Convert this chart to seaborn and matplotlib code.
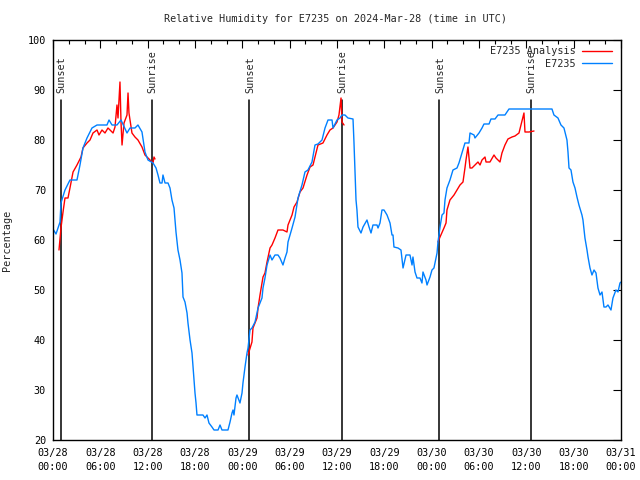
import numpy as np
import pandas as pd
import seaborn as sns
import matplotlib
matplotlib.use("Agg")
import matplotlib.pyplot as plt

# ---------------- data (hours since 2024-03-28 00:00 UTC) ----------------
obs_hours = [0, 0.38, 0.89, 1.01, 1.52, 2.15, 3.04, 3.42, 3.80, 4.31, 4.94, 5.58, 6.84, 7.10, 7.48,
             8.11, 8.62, 9.38, 9.76, 10.39, 10.77, 11.28, 11.66, 12.04, 12.68, 13.06, 13.31, 13.56,
             13.82, 13.94, 14.20, 14.58, 14.83, 15.08, 15.34, 15.59, 15.84, 16.10, 16.35, 16.48,
             16.73, 16.99, 17.11, 17.37, 17.62, 17.75, 17.87, 18.00, 18.13, 18.25, 19.01, 19.27,
             19.52, 19.77, 20.15, 20.41, 20.92, 21.17, 21.42, 22.18, 22.44, 22.69, 22.82, 22.94,
             23.20, 23.32, 23.70, 23.96, 24.08, 24.34, 24.59, 24.72, 24.97, 25.22, 25.61, 25.99,
             26.49, 26.62, 26.87, 27.13, 27.51, 27.76, 28.14, 28.52, 28.77, 29.15, 29.41, 29.66,
             29.79, 30.30, 30.68, 31.06, 31.56, 31.94, 32.32, 32.83, 33.21, 33.59, 34.10, 34.48,
             34.86, 35.37, 35.49, 36.00, 36.38, 36.63, 37.01, 37.39, 38.03, 38.15, 38.28, 38.41,
             38.53, 38.66, 39.04, 39.30, 39.80, 40.06, 40.31, 40.56, 41.07, 41.20, 41.45, 41.70,
             41.96, 42.34, 42.72, 42.97, 43.10, 43.22, 43.73, 44.11, 44.37, 44.75, 45.25, 45.51,
             45.63, 45.89, 46.14, 46.52, 46.77, 46.90, 47.28, 47.41, 47.79, 48.04, 48.29, 48.68,
             48.80, 49.06, 49.31, 49.56, 49.69, 49.94, 50.32, 50.70, 51.21, 51.46, 51.84, 52.22,
             52.73, 52.86, 53.37, 53.49, 54.00, 54.38, 54.63, 55.27, 55.52, 56.03, 56.41, 57.29,
             57.80, 61.98, 63.25, 63.50, 64.01, 64.39, 64.77, 65.15, 65.28, 65.41, 65.66, 65.91,
             66.17, 66.42, 66.67, 67.05, 67.18, 67.43, 67.69, 67.82, 68.07, 68.32, 68.58, 68.83,
             69.08, 69.34, 69.59, 69.84, 70.10, 70.35, 70.73, 70.98, 71.36, 71.62, 71.87, 72.00]
obs_rh = [62.2, 61.2, 63.6, 67.4, 70, 72, 72, 75, 78.4, 80.4, 82.4, 83, 83, 84, 83,
          83, 84, 81.4, 82.4, 82.4, 83, 81.6, 77.6, 76, 75.4, 74.4, 73, 71.4,
          71.4, 73, 71.4, 71.4, 70.4, 68, 66.4, 61.6, 58, 56, 53.4, 48.6,
          47.6, 45.4, 43.4, 40, 37.4, 34.6, 32, 29.4, 27.4, 25, 25, 24.4,
          25, 23.4, 22.6, 22, 22, 23, 22, 22, 23.6, 25.4, 26, 25,
          28.4, 29, 27.4, 29.4, 31.4, 34.6, 37.4, 38.4, 42, 42.4, 43.6, 46.4,
          48.4, 50.4, 52.4, 55, 57, 56, 57, 57, 56.4, 55, 56.4, 57.6,
          59.6, 62.4, 64.6, 68.4, 71, 73.6, 74, 75.6, 79, 79.2, 80, 82.4,
          84, 84, 82.4, 84, 84.4, 85, 85, 84.4, 84.2, 79.6, 73.6, 68,
          66, 62.6, 61.4, 62.6, 64, 62.6, 61.4, 63, 63, 62.4, 63.4, 66,
          66, 65, 63.4, 61, 61, 58.6, 58.4, 58, 54.4, 57, 57, 55,
          56.6, 53.6, 52.4, 52.4, 51.4, 53.6, 52, 51, 52.6, 54, 54.4, 57.4,
          59.6, 62.6, 65, 65.4, 68, 70.4, 72, 74, 74.4, 75.4, 77.4, 79.4,
          79.4, 81.4, 81, 80.4, 81.4, 82.4, 83.2, 83.2, 84.2, 84.2, 85, 85,
          86.2, 86.2, 86.2, 85, 84.4, 83, 82.4, 80, 77.6, 74.4, 74, 71.6,
          70.4, 68.6, 67, 65, 64, 60.4, 58, 56.6, 54.4, 53, 54, 53.4,
          50.4, 49, 49.6, 46.6, 46.6, 47, 46, 48.4, 50, 49.6, 51.4, 51.6]

ana1_hours = [0.76, 1.01, 1.27, 1.52, 1.90, 2.15, 2.54, 3.04, 3.55, 3.80, 4.31, 4.69, 5.07, 5.58,
              5.83, 6.21, 6.59, 6.97, 7.23, 7.61, 7.86, 8.11, 8.24, 8.49, 8.62, 8.75, 9.00, 9.38,
              9.51, 9.63, 10.01, 10.39, 10.77, 11.28, 11.66, 12.30, 12.68, 12.80, 12.93]
ana1_rh = [58, 62.4, 65.6, 68.4, 68.4, 70.4, 73.6, 75, 76.6, 78.4, 79.4, 80, 81.4, 82,
           81, 82, 81.4, 82.4, 82, 81.4, 82.6, 87, 84.4, 91.6, 83.6, 79, 83.4, 85,
           89.4, 85.4, 81.4, 80.6, 80, 78.6, 77, 76, 75.4, 76.6, 76.2]
ana2_hours = [24.72, 25.22, 25.35, 25.86, 25.99, 26.24, 26.62, 26.87, 27.13, 27.51, 27.76, 28.14,
              28.52, 29.15, 29.66, 29.79, 30.30, 30.55, 30.93, 31.31, 31.69, 32.20, 32.58, 32.96,
              33.21, 33.59, 34.22, 34.73, 35.11, 35.49, 36.00, 36.25, 36.51, 36.63, 36.89]
ana2_rh = [37, 39.6, 42.4, 44.4, 46.4, 49, 52.6, 53.4, 55.6, 58.4, 59, 60.4,
           62, 62, 61.6, 63, 65, 66.6, 67.6, 69.6, 70.4, 73, 74.6, 75,
           76.6, 79, 79.4, 81, 82, 82.4, 83.6, 85, 88.4, 83.6, 83]
ana3_hours = [48.80, 49.06, 49.56, 49.82, 49.94, 50.32, 50.83, 51.21, 51.59, 51.97, 52.22, 52.35,
              52.60, 52.86, 53.11, 53.49, 53.87, 54.13, 54.38, 54.76, 54.89, 55.39, 55.90, 56.15,
              56.66, 56.91, 57.29, 57.67, 58.18, 58.56, 59.07, 59.32, 59.70, 59.83, 60.34, 60.97]
ana3_rh = [59.6, 60.6, 62.4, 63.4, 66, 68, 69, 70, 71, 71.6, 74.4, 76,
           78.6, 74.4, 74.4, 75, 75.6, 75, 76, 76.6, 75.6, 75.6, 77, 76.4,
           75.6, 77.4, 79, 80.2, 80.6, 80.8, 81.4, 83, 85.4, 81.6, 81.6, 81.8]

sun_events = ["Sunset", "Sunrise", "Sunset", "Sunrise", "Sunset", "Sunrise"]
sun_hours = [0.97, 12.5, 24.88, 36.59, 48.97, 60.55]

tick_hours = [0, 6, 12, 18, 24, 30, 36, 42, 48, 54, 60, 66, 72]
tick_labels = ["03/28\n00:00", "03/28\n06:00", "03/28\n12:00", "03/28\n18:00",
               "03/29\n00:00", "03/29\n06:00", "03/29\n12:00", "03/29\n18:00",
               "03/30\n00:00", "03/30\n06:00", "03/30\n12:00", "03/30\n18:00",
               "03/31\n00:00"]

title = "Relative Humidity for E7235 on 2024-Mar-28 (time in UTC)"
series_names = ["E7235 Analysis", "E7235"]
series_colors = ["#ff0000", "#0080ff"]

# ---------------- build table ----------------
frames = []
for i, (h, v) in enumerate([(ana1_hours, ana1_rh), (ana2_hours, ana2_rh), (ana3_hours, ana3_rh)]):
    frames.append(pd.DataFrame({"hour": h, "rh": v, "series": series_names[0], "seg": i}))
frames.append(pd.DataFrame({"hour": obs_hours, "rh": obs_rh, "series": series_names[1], "seg": 10}))
df = pd.concat(frames, ignore_index=True)

# ---------------- style ----------------
sns.set_style("white")
FS = 7.3
plt.rcParams["font.family"] = ["DejaVu Sans Mono", "DejaVu Sans"]
plt.rcParams["font.size"] = FS

fig = plt.figure(figsize=(6.4, 4.8), dpi=100)
ax = fig.add_axes([53 / 640, 1 - 440 / 480, (621 - 53) / 640, 400 / 480])

for h, name in zip(sun_hours, sun_events):
    ax.plot([h, h], [20, 88], color="black", lw=1.1, zorder=1)
    ax.text(h + 0.1, 89.4, name, rotation=90, ha="center", va="bottom", fontsize=FS, zorder=3)

sns.lineplot(data=df, x="hour", y="rh", hue="series", hue_order=series_names,
             palette=dict(zip(series_names, series_colors)), units="seg", estimator=None,
             sort=False, lw=1.0, ax=ax, zorder=2)

ax.set_xlim(0, 72)
ax.set_ylim(20, 100)
ax.set_xticks(tick_hours)
ax.set_xticklabels(tick_labels, linespacing=1.5)
ax.set_xticks(np.arange(0, 73, 2), minor=True)
ax.set_yticks(np.arange(20, 101, 10))
ax.tick_params(axis="both", which="both", direction="in", top=True, right=True,
               colors="black", labelsize=FS)
ax.tick_params(axis="both", which="major", length=6, width=0.8)
ax.tick_params(axis="both", which="minor", length=3, width=0.8)
ax.tick_params(axis="x", which="major", pad=6)
ax.tick_params(axis="y", which="major", pad=5)
for s in ax.spines.values():
    s.set_color("black")
    s.set_linewidth(1.0)
ax.set_xlabel("")
ax.set_ylabel("Percentage", fontsize=FS, labelpad=11)
ax.grid(False)

fig.text(336 / 640, 1 - 19 / 480, title, ha="center", va="center", fontsize=FS)

leg = ax.legend(loc="upper right", bbox_to_anchor=(0.995, 1.0), frameon=False, markerfirst=False,
                fontsize=FS, handlelength=3.0, handletextpad=0.6, labelspacing=0.25,
                borderaxespad=0.2)
for vp in leg._legend_handle_box.get_children():
    vp.align = "right"
for line in leg.get_lines():
    line.set_linewidth(1.0)

fig.savefig("out.png", dpi=100)
